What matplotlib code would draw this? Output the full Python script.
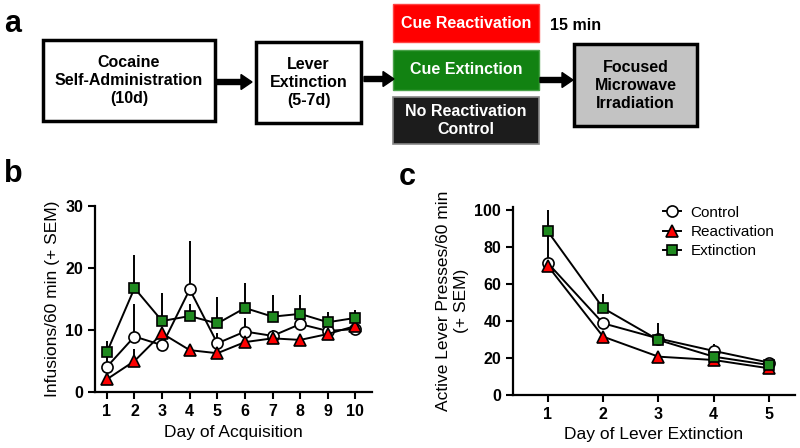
import numpy as np
import matplotlib
matplotlib.use("Agg")
import matplotlib.pyplot as plt
from matplotlib.patches import Rectangle, FancyArrow

plt.rcParams['font.family'] = ['Liberation Sans', 'DejaVu Sans']

# ---- data, panel b (acquisition) ----
days_b = [1, 2, 3, 4, 5, 6, 7, 8, 9, 10]
ctrl_b = [4.1, 9.0, 7.6, 16.6, 7.9, 9.8, 9.1, 11.0, 9.9, 10.2]
ctrl_b_sem = [2.5, 5.3, 1.5, 7.8, 1.7, 2.2, 1.0, 1.2, 0.8, 0.8]
react_b = [2.1, 5.05, 9.5, 6.8, 6.3, 8.1, 8.7, 8.45, 9.4, 10.7]
react_b_sem = [0.8, 1.9, 1.0, 0.7, 0.6, 0.7, 0.6, 0.6, 0.7, 0.9]
ext_b = [6.46, 16.8, 11.5, 12.3, 11.1, 13.6, 12.2, 12.65, 11.3, 12.0]
ext_b_sem = [1.8, 5.3, 4.5, 2.0, 4.3, 4.0, 3.5, 3.1, 1.7, 1.2]

# ---- data, panel c (lever extinction) ----
days_c = [1, 2, 3, 4, 5]
ctrl_c = [71.2, 38.7, 30.5, 23.8, 17.5]
ctrl_c_sem = [16.0, 3.0, 2.0, 3.5, 1.2]
react_c = [69.7, 31.5, 20.7, 18.9, 14.4]
react_c_sem = [1.5, 1.5, 1.5, 1.2, 1.0]
ext_c = [88.3, 46.9, 29.7, 20.7, 16.2]
ext_c_sem = [11.7, 7.7, 9.0, 2.5, 1.2]

RED = '#ff0000'
GREEN = '#1f8a1f'

fig = plt.figure(figsize=(8, 4.48), dpi=100)

# ---- panel a: flow diagram drawn in pixel coordinates ----
da = fig.add_axes([0, 0, 1, 1])
da.set_xlim(0, 800)
da.set_ylim(448, 0)
da.axis('off')

def box(x0, y0, x1, y1, face, edge, lw, text, tcolor):
    da.add_patch(Rectangle((x0, y0), x1 - x0, y1 - y0, facecolor=face,
                           edgecolor=edge, linewidth=lw))
    da.text((x0 + x1) / 2, (y0 + y1) / 2, text, ha='center', va='center',
            color=tcolor, fontsize=11.5, fontweight='bold', linespacing=1.25)

def arrow(x0, x1, y):
    da.add_patch(FancyArrow(x0, y, x1 - x0, 0, width=5, head_width=15,
                            head_length=11, length_includes_head=True,
                            color='black'))

box(43, 40, 215, 121, 'white', 'black', 2.5,
    'Cocaine\nSelf-Administration\n(10d)', 'black')
box(256, 42, 361, 123, 'white', 'black', 2.5, 'Lever\nExtinction\n(5-7d)', 'black')
box(393, 4, 539, 42, RED, '#ff4444', 1, 'Cue Reactivation', 'white')
box(393, 50, 539, 90, '#128212', '#4aa24a', 1, 'Cue Extinction', 'white')
box(393, 97, 539, 144, '#1c1c1c', '#888888', 1.2,
    'No Reactivation\nControl', 'white')
box(574, 44, 697, 126, '#c3c3c3', 'black', 2.5,
    'Focused\nMicrowave\nIrradiation', 'black')
da.text(550, 26, '15 min', ha='left', va='center', fontsize=11.5,
        fontweight='bold')
arrow(217, 252, 82)
arrow(364, 394, 79)
arrow(540, 573, 80)
da.text(4, 24, 'a', ha='left', va='center', fontsize=22, fontweight='bold')
da.text(4, 174, 'b', ha='left', va='center', fontsize=22, fontweight='bold')
da.text(399, 177, 'c', ha='left', va='center', fontsize=22, fontweight='bold')


def style(ax):
    for s in ['top', 'right']:
        ax.spines[s].set_visible(False)
    for s in ['left', 'bottom']:
        ax.spines[s].set_linewidth(1.6)
    ax.tick_params(width=1.5, length=5, labelsize=11.5)
    for lab in ax.get_xticklabels() + ax.get_yticklabels():
        lab.set_fontweight('bold')


def series(ax, x, y, sem, marker, face, ms, label, z):
    ax.errorbar(x, y, yerr=[np.zeros(len(sem)), sem], fmt='none',
                ecolor='black', elinewidth=1.4, capsize=0, zorder=z)
    ax.plot(x, y, color='black', lw=1.4, marker=marker, ms=ms,
            mfc=face, mec='black', mew=1.2, label=label, zorder=z + 0.5)


# ---- panel b ----
axb = fig.add_axes([95 / 800, 1 - 392.3 / 448, 277 / 800, 186 / 448])
series(axb, days_b, ctrl_b, ctrl_b_sem, 'o', 'white', 8, 'Control', 2)
series(axb, days_b, react_b, react_b_sem, '^', RED, 8, 'Reactivation', 3)
series(axb, days_b, ext_b, ext_b_sem, 's', GREEN, 7.5, 'Extinction', 4)
axb.set_xlim(0.57, 10.6)
axb.set_ylim(0, 30)
axb.set_xticks(days_b)
axb.set_yticks([0, 10, 20, 30])
axb.set_xlabel('Day of Acquisition', fontsize=12.5)
axb.set_ylabel('Infusions/60 min (+ SEM)', fontsize=12.5)
style(axb)

# ---- panel c ----
axc = fig.add_axes([513 / 800, 1 - 395 / 448, 282 / 800, 188 / 448])
series(axc, days_c, ctrl_c, ctrl_c_sem, 'o', 'white', 8, 'Control', 2)
series(axc, days_c, react_c, react_c_sem, '^', RED, 8, 'Reactivation', 3)
series(axc, days_c, ext_c, ext_c_sem, 's', GREEN, 7.5, 'Extinction', 4)
axc.set_xlim(0.37, 5.47)
axc.set_ylim(0, 101.5)
axc.set_xticks(days_c)
axc.set_yticks([0, 20, 40, 60, 80, 100])
axc.set_xlabel('Day of Lever Extinction', fontsize=12.5)
axc.set_ylabel('Active Lever Presses/60 min\n(+ SEM)', fontsize=12.5)
style(axc)
axc.legend(loc='upper left', bbox_to_anchor=(0.51, 1.04), frameon=False,
           fontsize=11, handlelength=1.2, handletextpad=0.6,
           labelspacing=0.35, borderaxespad=0)

fig.savefig('out.png', dpi=100)
